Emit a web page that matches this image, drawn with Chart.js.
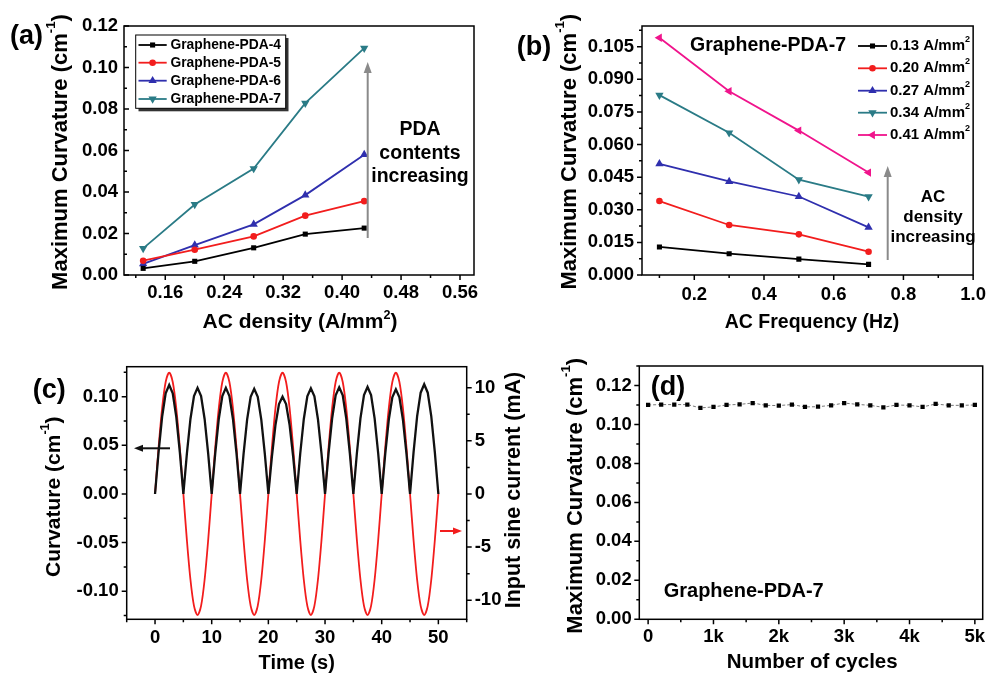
<!DOCTYPE html>
<html>
<head>
<meta charset="utf-8">
<script src="https://cdn.jsdelivr.net/npm/chart.js@4.4.1/dist/chart.umd.min.js"></script>
<style>
  body { margin: 0; background: #fff; width: 995px; height: 675px; position: relative; overflow: hidden; }
  canvas { position: absolute; }
</style>
</head>
<body>
<canvas id="pa" width="497" height="337" style="left:0;top:0"></canvas>
<canvas id="pb" width="498" height="337" style="left:497px;top:0"></canvas>
<canvas id="pc" width="530" height="338" style="left:0;top:337px"></canvas>
<canvas id="pd" width="465" height="338" style="left:530px;top:337px"></canvas>
<script>
// (a) maximum curvature vs AC density for each PDA content
var densityA = [0.13, 0.20, 0.28, 0.35, 0.43];
var pda4 = [0.0032, 0.0066, 0.0131, 0.0197, 0.0226];
var pda5 = [0.0069, 0.0122, 0.0186, 0.0286, 0.0356];
var pda6 = [0.0054, 0.0144, 0.0244, 0.0385, 0.0580];
var pda7 = [0.0128, 0.0340, 0.0513, 0.0828, 0.1093];
var pdaNames = ['Graphene-PDA-4', 'Graphene-PDA-5', 'Graphene-PDA-6', 'Graphene-PDA-7'];
var aXTicks = [0.16, 0.24, 0.32, 0.40, 0.48, 0.56];
var aYTicks = [0, 0.02, 0.04, 0.06, 0.08, 0.10, 0.12];

// (b) maximum curvature vs AC frequency, Graphene-PDA-7
var freqB = [0.1, 0.3, 0.5, 0.7];
var ac013 = [0.0129, 0.0098, 0.0073, 0.0049];
var ac020 = [0.0340, 0.0230, 0.0187, 0.0107];
var ac027 = [0.0511, 0.0430, 0.0361, 0.0219];
var ac034 = [0.0827, 0.0654, 0.0438, 0.0360];
var ac041 = [0.1091, 0.0845, 0.0664, 0.0471];
var acNames = ['0.13', '0.20', '0.27', '0.34', '0.41'];
var bXTicks = [0.2, 0.4, 0.6, 0.8, 1.0];
var bYTicks = [0, 0.015, 0.030, 0.045, 0.060, 0.075, 0.090, 0.105];

// (c) curvature response to the input sine current
var timeS = [0,0.625,1.25,1.875,2.5,3.125,3.75,4.375,5,5.625,6.25,6.875,7.5,8.125,8.75,9.375,10,
  10.625,11.25,11.875,12.5,13.125,13.75,14.375,15,15.625,16.25,16.875,17.5,18.125,18.75,19.375,20,
  20.625,21.25,21.875,22.5,23.125,23.75,24.375,25,25.625,26.25,26.875,27.5,28.125,28.75,29.375,30,
  30.625,31.25,31.875,32.5,33.125,33.75,34.375,35,35.625,36.25,36.875,37.5,38.125,38.75,39.375,40,
  40.625,41.25,41.875,42.5,43.125,43.75,44.375,45,45.625,46.25,46.875,47.5,48.125,48.75,49.375,50];
var curvature = [0,.0429,.0792,.1035,.112,.1035,.0792,.0429,
  0,.0417,.0771,.1007,.109,.1007,.0771,.0417,
  0,.0417,.0771,.1007,.109,.1007,.0771,.0417,
  0,.0413,.0764,.0998,.108,.0998,.0764,.0413,
  0,.0383,.0707,.0924,.100,.0924,.0707,.0383,
  0,.0416,.0768,.1003,.1086,.1003,.0768,.0416,
  0,.0419,.0775,.1013,.1096,.1013,.0775,.0419,
  0,.0421,.0778,.1016,.110,.1016,.0778,.0421,
  0,.0412,.0761,.0994,.1076,.0994,.0761,.0412,
  0,.0431,.0797,.1041,.1127,.1041,.0797,.0431,
  0];
var currentMA = [0,4.36,8.06,10.53,11.4,10.53,8.06,4.36,0,-4.36,-8.06,-10.53,-11.4,-10.53,-8.06,-4.36,
  0,4.36,8.06,10.53,11.4,10.53,8.06,4.36,0,-4.36,-8.06,-10.53,-11.4,-10.53,-8.06,-4.36,
  0,4.36,8.06,10.53,11.4,10.53,8.06,4.36,0,-4.36,-8.06,-10.53,-11.4,-10.53,-8.06,-4.36,
  0,4.36,8.06,10.53,11.4,10.53,8.06,4.36,0,-4.36,-8.06,-10.53,-11.4,-10.53,-8.06,-4.36,
  0,4.36,8.06,10.53,11.4,10.53,8.06,4.36,0,-4.36,-8.06,-10.53,-11.4,-10.53,-8.06,-4.36,
  0];
var cXTicks = [0, 10, 20, 30, 40, 50];
var cYTicks = [-0.10, -0.05, 0, 0.05, 0.10];
var cY2Ticks = [-10, -5, 0, 5, 10];

// (d) cycling stability
var cycles = [0,200,400,600,800,1000,1200,1400,1600,1800,2000,2200,2400,2600,2800,3000,
  3200,3400,3600,3800,4000,4200,4400,4600,4800,5000];
var cycleCurv = [0.1100,0.1102,0.1102,0.1102,0.1085,0.1090,0.1100,0.1103,0.1110,0.1098,0.1097,0.1102,0.1090,
  0.1091,0.1098,0.1110,0.1103,0.1098,0.1088,0.1100,0.1098,0.1090,0.1105,0.1098,0.1098,0.1100];
var dXTicks = [0, 1000, 2000, 3000, 4000, 5000];
var dYTicks = [0, 0.02, 0.04, 0.06, 0.08, 0.10, 0.12];

var FONT = '"Liberation Sans", Arial, sans-serif';
var BLUE = '#2f2fae', TEAL = '#2a7b86', RED = '#f21d1d', PINK = '#f0148c', GRAY = '#8a8a8a';

function pts(xs, ys) {
  return xs.map(function (x, i) { return { x: x, y: ys[i] }; });
}

function series(label, xs, ys, color, style, rot, r) {
  return {
    label: label, data: pts(xs, ys),
    borderColor: color, backgroundColor: color, borderWidth: 1.8,
    pointStyle: style, pointRotation: rot || 0, pointRadius: r || 3.6,
    pointBorderWidth: 0, tension: 0
  };
}

function axis(position, min, max, ticks, size, pad, fmt) {
  return {
    type: 'linear', position: position, min: min, max: max,
    grid: { display: false, drawTicks: false }, border: { display: false },
    ticks: {
      font: { family: FONT, weight: 'bold', size: 18.5 }, color: '#000',
      padding: pad, autoSkip: false, maxRotation: 0, callback: fmt
    },
    afterBuildTicks: function (s) { s.ticks = ticks.map(function (v) { return { value: v }; }); },
    afterFit: function (s) { if (s.isHorizontal()) s.height = size; else s.width = size; }
  };
}

// text with optional superscript parts, written as '^...'
function txt(ctx, parts, x, y, size, o) {
  o = o || {};
  var base = 'bold ' + size + 'px ' + FONT, small = 'bold ' + (size * 0.6) + 'px ' + FONT;
  var segs = [].concat(parts).map(function (p) {
    return p[0] === '^' ? { s: p.slice(1), f: small, dy: -size * 0.42 } : { s: p, f: base, dy: 0 };
  });
  var w = 0;
  segs.forEach(function (g) { ctx.font = g.f; g.w = ctx.measureText(g.s).width; w += g.w; });
  ctx.save();
  ctx.translate(x, y);
  if (o.rotate) ctx.rotate(-Math.PI / 2);
  ctx.fillStyle = o.color || '#000';
  ctx.textBaseline = o.baseline || 'alphabetic';
  ctx.textAlign = 'left';
  var cx = o.align === 'left' ? 0 : (o.align === 'right' ? -w : -w / 2);
  segs.forEach(function (g) { ctx.font = g.f; ctx.fillText(g.s, cx, g.dy); cx += g.w; });
  ctx.restore();
}

function arrow(ctx, x1, y1, x2, y2, color, lw, hl, hw) {
  var ang = Math.atan2(y2 - y1, x2 - x1);
  var bx = x2 - Math.cos(ang) * hl, by = y2 - Math.sin(ang) * hl;
  ctx.save();
  ctx.strokeStyle = color; ctx.fillStyle = color; ctx.lineWidth = lw;
  ctx.beginPath(); ctx.moveTo(x1, y1); ctx.lineTo(bx, by); ctx.stroke();
  ctx.beginPath();
  ctx.moveTo(x2, y2);
  ctx.lineTo(bx + Math.sin(ang) * hw / 2, by - Math.cos(ang) * hw / 2);
  ctx.lineTo(bx - Math.sin(ang) * hw / 2, by + Math.cos(ang) * hw / 2);
  ctx.closePath(); ctx.fill();
  ctx.restore();
}

// major + minor tick marks; dir 1 points out of the frame, -1 into it
function tickMarks(chart, id, edge, dir) {
  var s = chart.scales[id], a = chart.chartArea, ctx = chart.ctx;
  var majors = s.ticks.map(function (t) { return t.value; });
  var step = majors[1] - majors[0], minors = [];
  for (var i = -1; i < majors.length; i++) {
    var v = majors[0] + (i + 0.5) * step;
    if (v >= s.min - 1e-9 && v <= s.max + 1e-9) minors.push(v);
  }
  var base = edge === 'bottom' ? a.bottom : (edge === 'left' ? a.left : a.right);
  var sign = (edge === 'left' ? -1 : 1) * dir;
  ctx.beginPath();
  [[majors, 5], [minors, 3]].forEach(function (m) {
    m[0].forEach(function (val) {
      var p = s.getPixelForValue(val);
      if (edge === 'bottom') { ctx.moveTo(p, base); ctx.lineTo(p, base + sign * m[1]); }
      else { ctx.moveTo(base, p); ctx.lineTo(base + sign * m[1], p); }
    });
  });
  ctx.stroke();
}

// legend row: line sample with marker, then the label
function legendRow(ctx, ds, x0, x1, y, tx, parts, size) {
  ctx.save();
  ctx.strokeStyle = ds.borderColor; ctx.fillStyle = ds.borderColor; ctx.lineWidth = ds.borderWidth;
  ctx.beginPath(); ctx.moveTo(x0, y); ctx.lineTo(x1, y); ctx.stroke();
  Chart.helpers.drawPoint(ctx, { pointStyle: ds.pointStyle, rotation: ds.pointRotation, radius: ds.pointRadius, borderWidth: 0 }, (x0 + x1) / 2, y);
  ctx.restore();
  txt(ctx, parts, tx, y, size, { align: 'left', baseline: 'middle' });
}

function deco(origin, marks, draw) {
  return {
    id: 'deco',
    afterDraw: function (chart) {
      var ctx = chart.ctx, a = chart.chartArea;
      ctx.save();
      ctx.strokeStyle = '#000'; ctx.lineWidth = 1.5;
      ctx.strokeRect(a.left, a.top, a.right - a.left, a.bottom - a.top);
      marks.forEach(function (m) { tickMarks(chart, m[0], m[1], m[2]); });
      ctx.translate(-origin[0], -origin[1]);
      draw(ctx, chart);
      ctx.restore();
    }
  };
}

function baseOptions(pad, scales) {
  return {
    responsive: false, animation: false, devicePixelRatio: 1,
    layout: { padding: pad },
    plugins: { legend: { display: false }, tooltip: { enabled: false } },
    scales: scales
  };
}

var f2 = function (v) { return v.toFixed(2); };

// ---- (a)
new Chart(document.getElementById('pa'), {
  type: 'line',
  data: {
    datasets: [
      series(pdaNames[0], densityA, pda4, '#000', 'rect', 0, 3.6),
      series(pdaNames[1], densityA, pda5, RED, 'circle', 0, 3.3),
      series(pdaNames[2], densityA, pda6, BLUE, 'triangle', 0, 4.8),
      series(pdaNames[3], densityA, pda7, TEAL, 'triangle', 180, 4.8)
    ]
  },
  options: baseOptions({ top: 26, right: 23, left: 0, bottom: 0 }, {
    x: axis('bottom', 0.104, 0.579, aXTicks, 62, 7, f2),
    y: axis('left', 0, 0.12, aYTicks, 124, 6, f2)
  }),
  plugins: [deco([0, 0], [['x', 'bottom', 1], ['y', 'left', -1]], function (ctx, chart) {
    txt(ctx, '(a)', 10, 44, 27, { align: 'left' });
    txt(ctx, ['Maximum Curvature (cm', '^-1', ')'], 61, 152, 22, { rotate: true, baseline: 'middle' });
    txt(ctx, ['AC density (A/mm', '^2', ')'], 300, 328, 21);
    ctx.fillStyle = '#333'; ctx.fillRect(138.5, 38, 150, 73.3);
    ctx.fillStyle = '#fff'; ctx.fillRect(135.7, 35, 150, 73.3);
    ctx.strokeStyle = '#000'; ctx.lineWidth = 1; ctx.strokeRect(135.7, 35, 150, 73.3);
    var rows = [45, 62.7, 80.7, 99];
    chart.data.datasets.forEach(function (ds, i) {
      legendRow(ctx, ds, 138.5, 166.7, rows[i], 170.5, ds.label, 13.8);
    });
    arrow(ctx, 367.7, 238, 367.7, 62, GRAY, 2, 11, 8);
    txt(ctx, 'PDA', 420, 135, 19.5);
    txt(ctx, 'contents', 420, 159.3, 19.5);
    txt(ctx, 'increasing', 420, 181.7, 19.5);
  })]
});

// ---- (b)
new Chart(document.getElementById('pb'), {
  type: 'line',
  data: {
    datasets: [
      series(acNames[0] + ' A/mm²', freqB, ac013, '#000', 'rect', 0, 3.6),
      series(acNames[1] + ' A/mm²', freqB, ac020, RED, 'circle', 0, 3.3),
      series(acNames[2] + ' A/mm²', freqB, ac027, BLUE, 'triangle', 0, 4.8),
      series(acNames[3] + ' A/mm²', freqB, ac034, TEAL, 'triangle', 180, 4.8),
      series(acNames[4] + ' A/mm²', freqB, ac041, PINK, 'triangle', -90, 4.8)
    ]
  },
  options: baseOptions({ top: 26, right: 14, left: 0, bottom: 0 }, {
    x: axis('bottom', 0.05, 1.0, bXTicks, 62, 9, function (v) { return v.toFixed(1); }),
    y: axis('left', 0, 0.1145, bYTicks, 145, 8, function (v) { return v.toFixed(3); })
  }),
  plugins: [deco([497, 0], [['x', 'bottom', 1], ['y', 'left', 1]], function (ctx, chart) {
    txt(ctx, '(b)', 516.7, 55, 27, { align: 'left' });
    txt(ctx, ['Maximum Curvature (cm', '^-1', ')'], 569.5, 151.7, 22, { rotate: true, baseline: 'middle' });
    txt(ctx, 'AC Frequency (Hz)', 812, 328, 19.5);
    txt(ctx, 'Graphene-PDA-7', 768, 50.7, 19.5);
    var rows = [46, 68.3, 90.7, 112.7, 135];
    chart.data.datasets.forEach(function (ds, i) {
      legendRow(ctx, ds, 858, 887, rows[i], 890, [acNames[i] + ' A/mm', '^2'], 15);
    });
    arrow(ctx, 887.7, 260, 887.7, 166, GRAY, 2, 11, 8);
    txt(ctx, 'AC', 933, 201.7, 17);
    txt(ctx, 'density', 933, 221.7, 17);
    txt(ctx, 'increasing', 933, 241.7, 17);
  })]
});

// ---- (c)
new Chart(document.getElementById('pc'), {
  type: 'line',
  data: {
    datasets: [
      { label: 'Curvature', data: pts(timeS, curvature), yAxisID: 'y', borderColor: '#111',
        borderWidth: 2.3, pointRadius: 0, tension: 0 },
      { label: 'Input sine current', data: pts(timeS, currentMA), yAxisID: 'y2', borderColor: RED,
        borderWidth: 1.8, pointRadius: 0, tension: 0.3 }
    ]
  },
  options: baseOptions({ top: 29.7, right: 0, left: 0, bottom: 0 }, {
    x: axis('bottom', -5, 55, cXTicks, 55.7, 8, function (v) { return String(v); }),
    y: axis('left', -0.1288, 0.1308, cYTicks, 126.7, 8, f2),
    y2: axis('right', -11.79, 11.97, cY2Ticks, 63.3, 8, function (v) { return String(v); })
  }),
  plugins: [deco([0, 337], [['x', 'bottom', 1], ['y', 'left', 1], ['y2', 'right', 1]], function (ctx) {
    txt(ctx, '(c)', 32.7, 398.3, 27, { align: 'left' });
    txt(ctx, ['Curvature (cm', '^-1', ')'], 54.7, 496.7, 21, { rotate: true, baseline: 'middle' });
    txt(ctx, 'Input sine current (mA)', 514, 490, 21.5, { rotate: true, baseline: 'middle' });
    txt(ctx, 'Time (s)', 296.7, 669, 20);
    arrow(ctx, 170, 448.3, 134, 448.3, '#111', 2, 9, 7);
    arrow(ctx, 440, 531, 462, 531, RED, 2, 9, 7);
  })]
});

// ---- (d)
new Chart(document.getElementById('pd'), {
  type: 'line',
  data: {
    datasets: [{
      label: 'Graphene-PDA-7', data: pts(cycles, cycleCurv),
      borderColor: '#555', borderWidth: 0.8, borderDash: [3, 2],
      pointStyle: 'rect', pointRadius: 3, pointBorderWidth: 0,
      pointBackgroundColor: '#000', tension: 0
    }]
  },
  options: baseOptions({ top: 29, right: 12.3, left: 0, bottom: 0 }, {
    x: axis('bottom', -135, 5120, dXTicks, 55.7, 6.5, function (v) { return v === 0 ? '0' : (v / 1000) + 'k'; }),
    y: axis('left', 0, 0.13, dYTicks, 109.3, 7.6, f2)
  }),
  plugins: [deco([530, 337], [['x', 'bottom', 1], ['y', 'left', 1]], function (ctx) {
    txt(ctx, '(d)', 650.7, 395, 27, { align: 'left' });
    txt(ctx, ['Maximum Curvature (cm', '^-1', ')'], 575.8, 495.8, 22, { rotate: true, baseline: 'middle' });
    txt(ctx, 'Number of cycles', 812.2, 668.3, 20.5);
    txt(ctx, 'Graphene-PDA-7', 743.7, 597.3, 20);
  })]
});
</script>
</body>
</html>
